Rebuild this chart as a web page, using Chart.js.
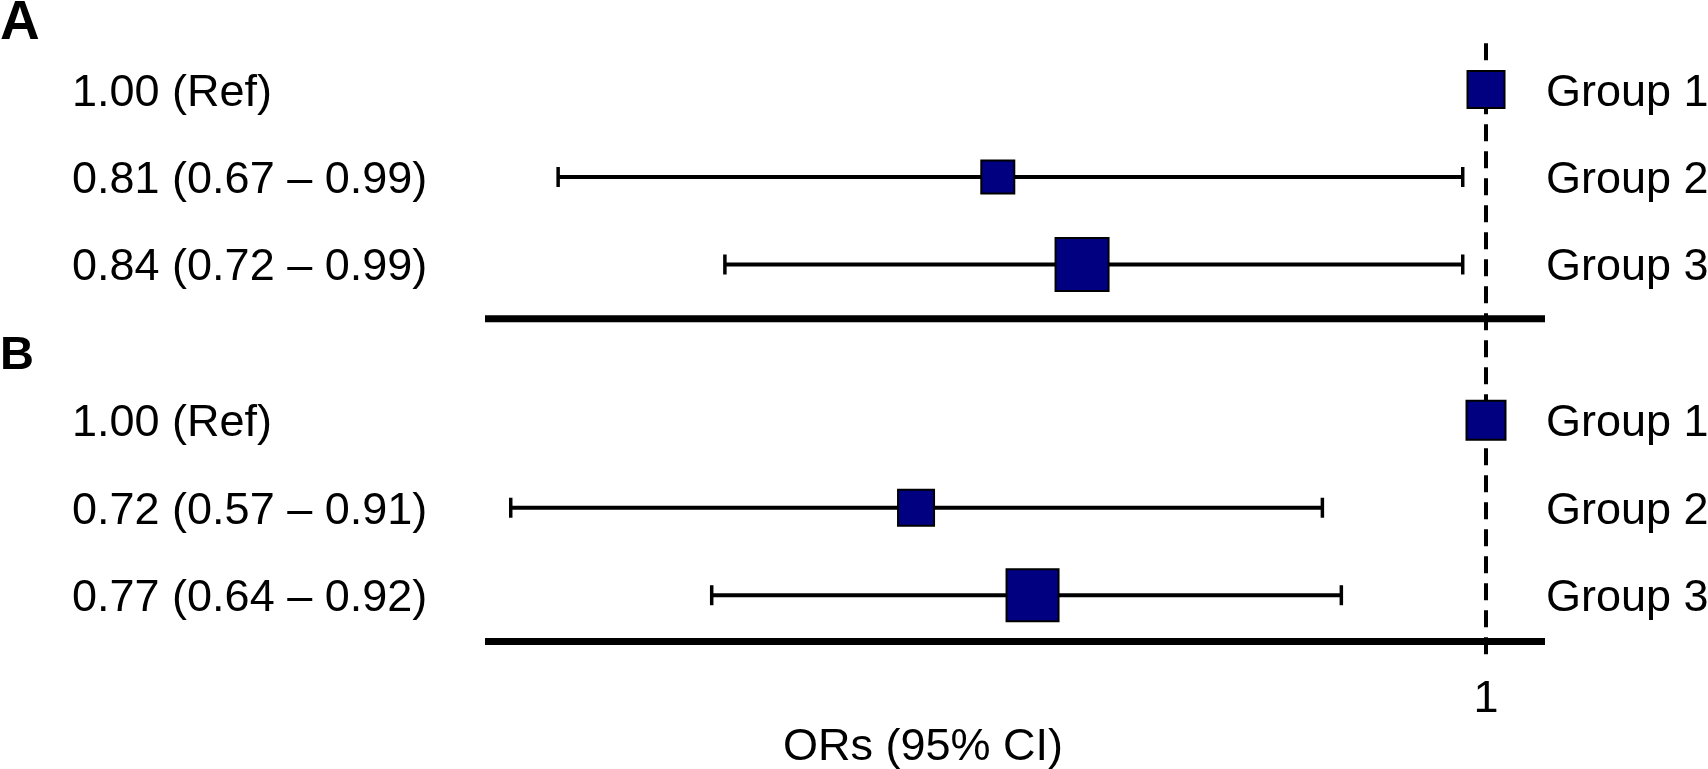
<!DOCTYPE html>
<html>
<head>
  <title>Forest plot - ORs (95% CI)</title>
  <script src="https://cdn.jsdelivr.net/npm/chart.js"></script>
  <style>
    html, body { margin: 0; padding: 0; background: #fff; overflow: hidden; }
    canvas { display: block; }
  </style>
</head>
<body>
  <canvas id="forest" width="1708" height="769"></canvas>

  <script>
    // values
    const groups = ['Group 1', 'Group 2', 'Group 3'];
    const orA   = [1.00, 0.81, 0.84];
    const lowA  = [null, 0.67, 0.72];
    const highA = [null, 0.99, 0.99];
    const orB   = [1.00, 0.72, 0.77];
    const lowB  = [null, 0.57, 0.64];
    const highB = [null, 0.91, 0.92];
    const refOR = 1;
    const refTick = '1';
    const xTitle = 'ORs (95% CI)';

    const FONT = '"Liberation Sans", Arial, Helvetica, sans-serif';
    const NAVY = '#000080';
    const SIZE = 45;

    // box sides in px (style only)
    const boxSide = { A: [37, 33, 53], B: [39, 36, 52] };

    const panels = [
      { name: 'A', or: orA, low: lowA, high: highA, axis: 'xA', offset: 0,    drop: 0.62, letter: 55 },
      { name: 'B', or: orB, low: lowB, high: highB, axis: 'xB', offset: 3.78, drop: 0.53, letter: 47 }
    ];
    const rowY = (p, i) => p.offset + i + 1;

    const datasets = [];
    panels.forEach(p => {
      datasets.push({
        label: 'OR ' + p.name,
        xAxisID: p.axis,
        data: p.or.map((v, i) => ({ x: v, y: rowY(p, i) })),
        pointStyle: 'rect',
        pointRadius: boxSide[p.name].map(s => s / Math.SQRT2),
        pointBackgroundColor: NAVY,
        pointBorderColor: '#000',
        pointBorderWidth: 2,
        order: 0
      });
      p.or.forEach((v, i) => {
        if (p.low[i] == null) return;
        datasets.push({
          label: 'CI ' + p.name + (i + 1),
          xAxisID: p.axis,
          showLine: true,
          data: [{ x: p.low[i], y: rowY(p, i) }, { x: p.high[i], y: rowY(p, i) }],
          borderColor: '#000',
          borderWidth: 4,
          pointStyle: 'line',
          pointRotation: 90,
          pointRadius: 10,
          pointBorderColor: '#000',
          pointBorderWidth: 3.5,
          order: 1
        });
      });
    });

    // dashed reference line, thick panel rules and all the text
    const decor = {
      id: 'decor',
      beforeDatasetsDraw(chart) {
        const { ctx, scales } = chart;
        const y = scales.y;
        const x1 = scales.xB.getPixelForValue(refOR);
        ctx.save();
        ctx.strokeStyle = '#000';
        ctx.lineWidth = 7;
        panels.forEach(p => {
          const py = y.getPixelForValue(rowY(p, groups.length - 1) + p.drop);
          ctx.beginPath();
          ctx.moveTo(485, py);
          ctx.lineTo(1545, py);
          ctx.stroke();
        });
        ctx.lineWidth = 4;
        ctx.setLineDash([17, 10]);
        ctx.beginPath();
        ctx.moveTo(x1, y.getPixelForValue(0.47));
        ctx.lineTo(x1, y.getPixelForValue(7.51));
        ctx.stroke();
        ctx.restore();
      },
      afterDatasetsDraw(chart) {
        const { ctx, scales } = chart;
        const y = scales.y;
        ctx.save();
        ctx.fillStyle = '#000';
        ctx.textBaseline = 'alphabetic';
        panels.forEach(p => {
          ctx.font = 'bold ' + p.letter + 'px ' + FONT;
          ctx.textAlign = 'left';
          ctx.fillText(p.name, 0, y.getPixelForValue(rowY(p, 0)) - 51);
          ctx.font = SIZE + 'px ' + FONT;
          p.or.forEach((v, i) => {
            const py = y.getPixelForValue(rowY(p, i)) + 16;
            const txt = p.low[i] == null
              ? v.toFixed(2) + ' (Ref)'
              : v.toFixed(2) + ' (' + p.low[i].toFixed(2) + ' \u2013 ' + p.high[i].toFixed(2) + ')';
            ctx.textAlign = 'left';
            ctx.fillText(txt, 72, py);
            ctx.fillText(groups[i], 1546, py);
          });
        });
        const last = panels[panels.length - 1];
        const ruleY = y.getPixelForValue(rowY(last, groups.length - 1) + last.drop);
        ctx.font = SIZE + 'px ' + FONT;
        ctx.textAlign = 'center';
        ctx.fillText(refTick, scales.xB.getPixelForValue(refOR), ruleY + 70);
        ctx.fillText(xTitle, 923, 760);
        ctx.restore();
      }
    };

    new Chart(document.getElementById('forest'), {
      type: 'scatter',
      data: { datasets },
      options: {
        responsive: false,
        maintainAspectRatio: false,
        devicePixelRatio: 1,
        animation: false,
        events: [],
        layout: { padding: 0, autoPadding: false },
        plugins: { legend: { display: false }, tooltip: { enabled: false } },
        scales: {
          xA: { type: 'logarithmic', axis: 'x', position: 'bottom', min: 0.52657, max: 1.10055, display: false },
          xB: { type: 'logarithmic', axis: 'x', position: 'bottom', min: 0.42465, max: 1.1365, display: false },
          y:  { type: 'linear', min: -0.0229, max: 8.766, reverse: true, display: false }
        }
      },
      plugins: [decor]
    });
  </script>
</body>
</html>
